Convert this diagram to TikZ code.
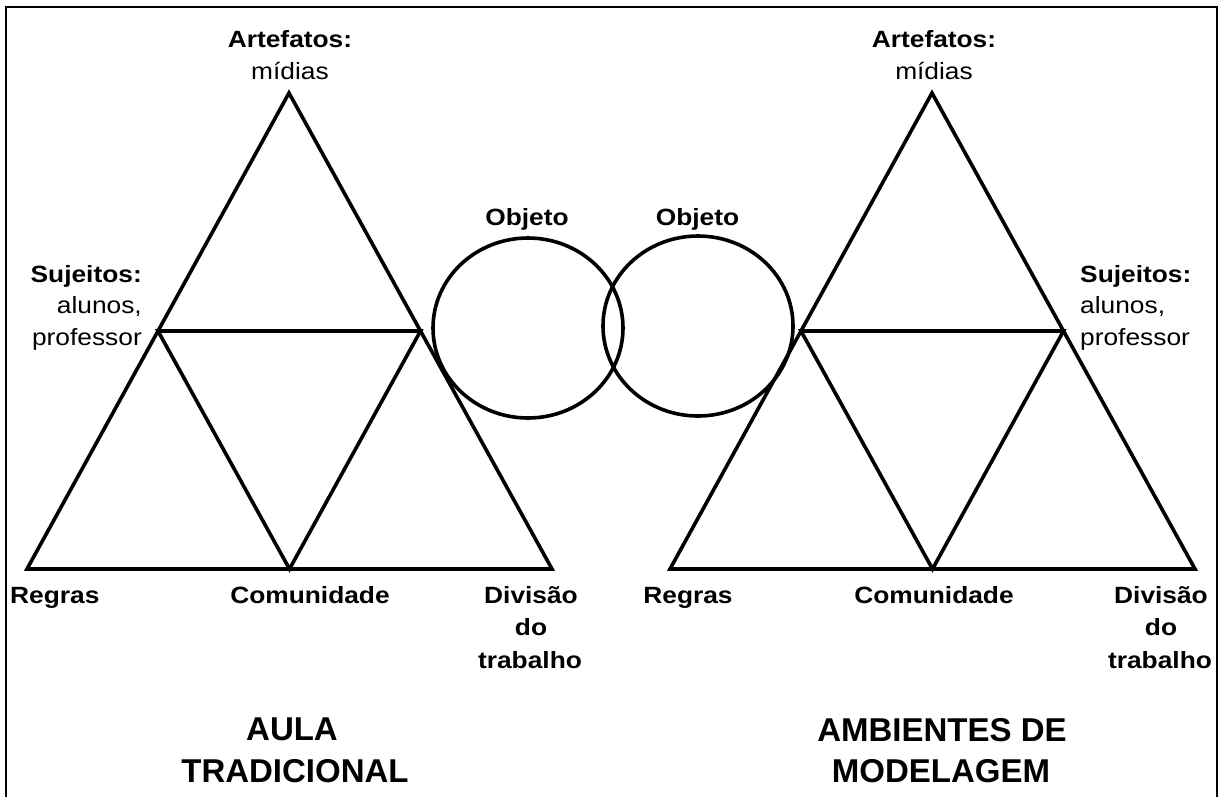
\documentclass[tikz,border=0pt]{standalone}
\usepackage{fontspec}
\setmainfont{Liberation Sans}
\newfontfamily\lblfont[FakeStretch=1.12]{Liberation Sans}
\begin{document}
\begin{tikzpicture}[x=1pt,y=-1pt,
  edge/.style={line width=3.6pt,line join=miter,line cap=butt},
  frame/.style={line width=2pt},
  lbl/.style={inner sep=0pt,font=\lblfont\fontsize{23.5}{28}\selectfont\bfseries},
  lblr/.style={inner sep=0pt,font=\lblfont\fontsize{23.5}{28}\selectfont},
  ttl/.style={inner sep=0pt,font=\fontsize{33}{40}\selectfont\bfseries}]
\useasboundingbox (0,0) rectangle (1220,796);
\fill[white] (0,0) rectangle (1220,796);
% frame
\coordinate (fbl) at (6,800);
\coordinate (ftl) at (6,7);
\coordinate (ftr) at (1217,7);
\coordinate (fbr) at (1217,800);
\draw[frame] (fbl) -- (ftl) -- (ftr) -- (fbr);
% left triangle
\coordinate (A1) at (289,93);
\coordinate (L1) at (27,569);
\coordinate (R1) at (552,569);
\coordinate (M1) at (289.5,569);
\coordinate (SL1) at (158,331);
\coordinate (SR1) at (420.5,331);
\draw[edge] (A1) -- (L1) -- (R1) -- cycle;
\draw[edge] (SL1) -- (SR1) -- (M1) -- cycle;
% right triangle
\coordinate (A2) at (932,93);
\coordinate (L2) at (670,569);
\coordinate (R2) at (1195,569);
\coordinate (M2) at (932.5,569);
\coordinate (SL2) at (801,331);
\coordinate (SR2) at (1063.5,331);
\draw[edge] (A2) -- (L2) -- (R2) -- cycle;
\draw[edge] (SL2) -- (SR2) -- (M2) -- cycle;
% circles
\coordinate (c1c) at (528,328);
\coordinate (c2c) at (698,326);
\draw[edge] (c1c) ellipse [x radius=95,y radius=90];
\draw[edge] (c2c) ellipse [x radius=95,y radius=90];
% left labels
\node[lbl,anchor=base] (art1) at (290,47) {Artefatos:};
\node[lblr,anchor=base] (mid1) at (290,79) {mídias};
\node[lbl,anchor=base] (obj1) at (527,225) {Objeto};
\node[lbl,anchor=base east] (suj1) at (142,282) {Sujeitos:};
\node[lblr,anchor=base east] (alu1) at (142,313) {alunos,};
\node[lblr,anchor=base east] (pro1) at (142,345) {professor};
\node[lbl,anchor=base west] (reg1) at (10,603) {Regras};
\node[lbl,anchor=base] (com1) at (310,603) {Comunidade};
\node[lbl,anchor=base] (div1) at (531,603) {Divisão};
\node[lbl,anchor=base] (do1) at (531,635) {do};
\node[lbl,anchor=base] (tra1) at (530,668) {trabalho};
\node[ttl,anchor=base] (t1a) at (292,740) {AULA};
\node[ttl,anchor=base] (t1b) at (295,782) {TRADICIONAL};
% right labels
\node[lbl,anchor=base] (art2) at (934,47) {Artefatos:};
\node[lblr,anchor=base] (mid2) at (934,79) {mídias};
\node[lbl,anchor=base] (obj2) at (697.5,225) {Objeto};
\node[lbl,anchor=base west] (suj2) at (1080,282) {Sujeitos:};
\node[lblr,anchor=base west] (alu2) at (1080,313) {alunos,};
\node[lblr,anchor=base west] (pro2) at (1080,345) {professor};
\node[lbl,anchor=base] (reg2) at (688,603) {Regras};
\node[lbl,anchor=base] (com2) at (934,603) {Comunidade};
\node[lbl,anchor=base] (div2) at (1161,603) {Divisão};
\node[lbl,anchor=base] (do2) at (1161,635) {do};
\node[lbl,anchor=base] (tra2) at (1160,668) {trabalho};
\node[ttl,anchor=base] (t2a) at (942,741) {AMBIENTES DE};
\node[ttl,anchor=base] (t2b) at (941,782) {MODELAGEM};
\end{tikzpicture}
\end{document}
